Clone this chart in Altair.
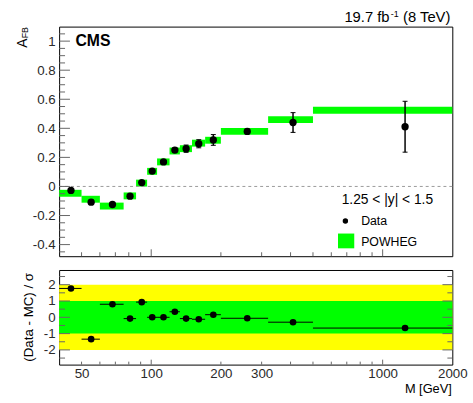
import altair as alt
import pandas as pd

# ---------------- data ----------------
edges = [40, 50, 60, 76, 86, 96, 106, 120, 133, 150, 171, 200, 320, 500, 2000]
afb_data = [-0.027, -0.108, -0.124, -0.067, 0.027, 0.106, 0.169, 0.250, 0.260, 0.294, 0.320, 0.379, 0.440, 0.411]
afb_err = [0.012, 0.015, 0.014, 0.012, 0.010, 0.010, 0.012, 0.015, 0.025, 0.028, 0.037, 0.015, 0.068, 0.175]
afb_mc = [-0.047, -0.088, -0.135, -0.065, 0.023, 0.104, 0.169, 0.244, 0.260, 0.298, 0.318, 0.379, 0.460, 0.524]
pulls = [1.77, -1.34, 0.80, -0.08, 0.93, 0.00, 0.00, 0.34, -0.08, -0.12, 0.16, -0.06, -0.30, -0.66]

x_tick_labels = [50, 100, 200, 300, 1000, 2000]
x_major = [100, 1000]
x_minor = [50, 60, 70, 80, 90, 200, 300, 400, 500, 600, 700, 800, 900]
y_top_labels = [-0.4, -0.2, 0, 0.2, 0.4, 0.6, 0.8, 1]
y_top_minor = [-0.45, -0.35, -0.3, -0.25, -0.15, -0.1, -0.05, 0.05, 0.1, 0.15, 0.25, 0.3,
               0.35, 0.45, 0.5, 0.55, 0.65, 0.7, 0.75, 0.85, 0.9, 0.95, 1.05]
y_bot_labels = [-2, -1, 0, 1, 2]
y_bot_minor = [-2.5, -1.5, -0.5, 0.5, 1.5, 2.5]
band_2sigma = [-2, 2]
band_1sigma = [-1, 1]

txt_cms = ["CMS"]
txt_lumi_a = ["19.7 fb"]
txt_lumi_sup = ["-1"]
txt_lumi_b = ["(8 TeV)"]
txt_region = ["1.25 < |y| < 1.5"]
txt_data = ["Data"]
txt_mc = ["POWHEG"]
txt_ytop_main = ["A"]
txt_ytop_sub = ["FB"]
txt_ybot = ["(Data - MC) / \u03c3"]
txt_x = ["M [GeV]"]

# ---------------- tables ----------------
df = pd.DataFrame({
    "lo": edges[:-1],
    "hi": edges[1:],
    "M": [(a + b) / 2 for a, b in zip(edges[:-1], edges[1:])],
    "A": afb_data,
    "err": afb_err,
    "mc": afb_mc,
    "pull": pulls,
})
df["elo"] = df["A"] - df["err"]
df["ehi"] = df["A"] + df["err"]

FONT = "Liberation Sans"
W, H1, H2 = 399, 233, 96
TICK_COL = "#666666"
LABEL_COL = "#2a2a2a"

xs = alt.Scale(type="log", domain=[40, 2000], nice=False)
ys1 = alt.Scale(domain=[-0.48, 1.1], nice=False, zero=False)
ys2 = alt.Scale(domain=[-2.9, 2.9], nice=False, zero=False)

yaxis_top = alt.Axis(values=y_top_labels, labelExpr="toString(datum.value)", ticks=False,
                     domain=False, grid=False, title=None, labelFont=FONT, labelFontSize=13.5,
                     labelColor=LABEL_COL, labelPadding=4, labelOverlap=False)
yaxis_bot = alt.Axis(values=y_bot_labels, labelExpr="toString(datum.value)", ticks=False,
                     domain=False, grid=False, title=None, labelFont=FONT, labelFontSize=13.5,
                     labelColor=LABEL_COL, labelPadding=4, labelOverlap=False)
xaxis_bot = alt.Axis(values=x_tick_labels, labelExpr="toString(datum.value)", ticks=False,
                     domain=False, grid=False, title=None, labelFont=FONT, labelFontSize=13.5,
                     labelColor=LABEL_COL, labelPadding=2, labelFlush=False, labelOverlap=False)


def X(f):
    return alt.X(f, type="quantitative", scale=xs, axis=None)


def Yt(f):
    return alt.Y(f, type="quantitative", scale=ys1, axis=yaxis_top)


def Xb(f):
    return alt.X(f, type="quantitative", scale=xs, axis=xaxis_bot)


def Yb(f):
    return alt.Y(f, type="quantitative", scale=ys2, axis=yaxis_bot)


def text_layer(vals, **kw):
    return alt.Chart(pd.DataFrame({"t": vals})).mark_text(font=FONT, color="black", **kw).encode(
        text="t:N")


# ---------------- top panel ----------------
base = alt.Chart(df)
mc_bars = base.mark_rule(color="#00ff00", strokeWidth=7, strokeCap="butt").encode(
    x=X("lo"), x2="hi", y=Yt("mc"))
zero = alt.Chart(pd.DataFrame({"z": [0]})).mark_rule(
    color="#999999", strokeDash=[3, 3], strokeWidth=1).encode(y=Yt("z"))
ebar = base.mark_rule(color="black", strokeWidth=1.5).encode(x=X("M"), y=Yt("elo"), y2="ehi")
cap_lo = base.mark_rule(color="black", strokeWidth=1, xOffset=-2.5, x2Offset=2.5).encode(
    x=X("M"), x2="M", y=Yt("elo"))
cap_hi = base.mark_rule(color="black", strokeWidth=1, xOffset=-2.5, x2Offset=2.5).encode(
    x=X("M"), x2="M", y=Yt("ehi"))
pts = base.mark_circle(size=55, color="black", opacity=1).encode(x=X("M"), y=Yt("A"))

yt_major = alt.Chart(pd.DataFrame({"v": y_top_labels})).mark_rule(color=TICK_COL).encode(
    y=Yt("v"), x=alt.value(0), x2=alt.value(11))
yt_minor = alt.Chart(pd.DataFrame({"v": y_top_minor})).mark_rule(color=TICK_COL).encode(
    y=Yt("v"), x=alt.value(0), x2=alt.value(6))
xt_major = alt.Chart(pd.DataFrame({"v": x_major})).mark_rule(color=TICK_COL).encode(
    x=X("v"), y=alt.value(H1), y2=alt.value(H1 - 7))
xt_minor = alt.Chart(pd.DataFrame({"v": x_minor})).mark_rule(color=TICK_COL).encode(
    x=X("v"), y=alt.value(H1), y2=alt.value(H1 - 4))

cms = text_layer(txt_cms, x=16.5, y=20, align="left", baseline="alphabetic", fontSize=16,
                 fontWeight="bold")
lumi_a = text_layer(txt_lumi_a, x=289.5, y=-4.3, align="left", baseline="alphabetic", fontSize=15)
lumi_s = text_layer(txt_lumi_sup, x=336.5, y=-10, align="left", baseline="alphabetic", fontSize=9)
lumi_b = text_layer(txt_lumi_b, x=349, y=-4.3, align="left", baseline="alphabetic", fontSize=15)
region = text_layer(txt_region, x=379.5, y=180, align="right", baseline="alphabetic", fontSize=14)
leg_dot = alt.Chart(pd.DataFrame({"t": [0]})).mark_circle(size=30, color="black", opacity=1).encode(
    x=alt.value(290.5), y=alt.value(197.3))
leg_data = text_layer(txt_data, x=306.5, y=201, align="left", baseline="alphabetic", fontSize=12.5)
leg_box = alt.Chart(pd.DataFrame({"t": [0]})).mark_rect(color="#00ff00").encode(
    x=alt.value(283), x2=alt.value(299.5), y=alt.value(210), y2=alt.value(225))
leg_mc = text_layer(txt_mc, x=306.5, y=222.3, align="left", baseline="alphabetic", fontSize=12.5)
ytitle_a = text_layer(txt_ytop_main, x=-32.5, y=16.7, angle=270, align="center",
                      baseline="alphabetic", fontSize=14)
ytitle_b = text_layer(txt_ytop_sub, x=-31.5, y=6.2, angle=270, align="center",
                      baseline="alphabetic", fontSize=9)

top = alt.layer(mc_bars, zero, ebar, cap_lo, cap_hi, pts, yt_major, yt_minor, xt_major, xt_minor,
                cms, lumi_a, lumi_s, lumi_b, region, leg_dot, leg_data, leg_box, leg_mc,
                ytitle_a, ytitle_b).properties(width=W, height=H1)

# ---------------- bottom panel ----------------
yellow = alt.Chart(pd.DataFrame({"lo": [band_2sigma[0]], "hi": [band_2sigma[1]]})).mark_rect(
    color="#ffff00").encode(y=Yb("lo"), y2="hi", x=alt.value(0), x2=alt.value(W))
green = alt.Chart(pd.DataFrame({"lo": [band_1sigma[0]], "hi": [band_1sigma[1]]})).mark_rect(
    color="#00ff00").encode(y=Yb("lo"), y2="hi", x=alt.value(0), x2=alt.value(W))
hbar = base.mark_rule(color="black", strokeWidth=1).encode(x=Xb("lo"), x2="hi", y=Yb("pull"))
ppts = base.mark_circle(size=45, color="black", opacity=1).encode(x=Xb("M"), y=Yb("pull"))

yb_major = alt.Chart(pd.DataFrame({"v": y_bot_labels})).mark_rule(color=TICK_COL).encode(
    y=Yb("v"), x=alt.value(0), x2=alt.value(11))
yb_minor = alt.Chart(pd.DataFrame({"v": y_bot_minor})).mark_rule(color=TICK_COL).encode(
    y=Yb("v"), x=alt.value(0), x2=alt.value(6))
yb_major_r = alt.Chart(pd.DataFrame({"v": y_bot_labels})).mark_rule(color=TICK_COL).encode(
    y=Yb("v"), x=alt.value(W - 10), x2=alt.value(W))
yb_minor_r = alt.Chart(pd.DataFrame({"v": y_bot_minor})).mark_rule(color=TICK_COL).encode(
    y=Yb("v"), x=alt.value(W - 5), x2=alt.value(W))
xb_major = alt.Chart(pd.DataFrame({"v": x_major})).mark_rule(color=TICK_COL).encode(
    x=Xb("v"), y=alt.value(H2), y2=alt.value(H2 - 5))
xb_minor = alt.Chart(pd.DataFrame({"v": x_minor})).mark_rule(color=TICK_COL).encode(
    x=Xb("v"), y=alt.value(H2), y2=alt.value(H2 - 3))

ytitle_bot = text_layer(txt_ybot, x=-26.5, y=48, angle=270, align="center",
                        baseline="alphabetic", fontSize=13.5)
xtitle = text_layer(txt_x, x=398.5, y=125, align="right", baseline="alphabetic", fontSize=13)

bottom = alt.layer(yellow, green, hbar, ppts, yb_major, yb_minor, yb_major_r, yb_minor_r,
                   xb_major, xb_minor, ytitle_bot, xtitle).properties(width=W, height=H2)

chart = alt.vconcat(top, bottom, spacing=12).properties(
    padding={"left": 16, "top": 6, "right": 5, "bottom": 5},
    background="white",
).configure_view(stroke="black", strokeWidth=1)

chart.save("out.html", embed_options={"renderer": "svg", "actions": False})
